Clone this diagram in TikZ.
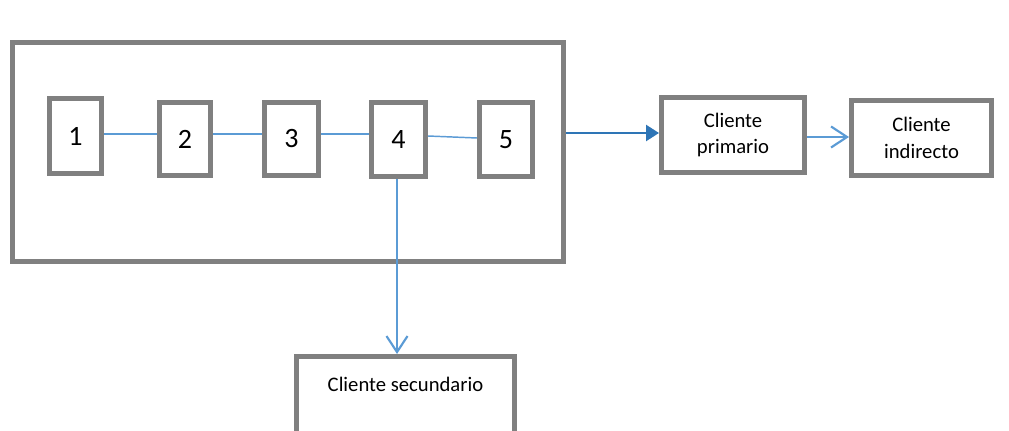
\documentclass[tikz,border=0pt]{standalone}
\usepackage{fontspec}
\setmainfont{Carlito}
\usetikzlibrary{arrows.meta}
\definecolor{boxgray}{HTML}{808080}
\definecolor{lblue}{HTML}{5B9BD5}
\definecolor{dblue}{HTML}{2E75B6}
\begin{document}
\begin{tikzpicture}[x=0.75pt,y=-0.75pt,
  stage/.style={draw=boxgray,line width=3.75pt,fill=white,inner sep=0pt,font=\fontsize{21}{24}\selectfont},
  client/.style={draw=boxgray,line width=3.75pt,fill=white,inner sep=0pt,align=center,font=\fontsize{15.5}{20}\selectfont},
  link/.style={draw=lblue,line width=1.1pt},
  openarrow/.style={draw=lblue,line width=1.6pt,-{Straight Barb[length=16*0.75pt,width=21*0.75pt,line width=1.6pt]}},
]
\useasboundingbox[fill=white] (0,0) rectangle (1009,431);
\node[stage,minimum width=551*0.75pt,minimum height=219*0.75pt] (big) at (288,152) {};
\node[stage,minimum width=52*0.75pt,minimum height=75*0.75pt] (b1) at (75.5,136) {1};
\node[stage,minimum width=51*0.75pt,minimum height=73*0.75pt] (b2) at (185,139) {2};
\node[stage,minimum width=54*0.75pt,minimum height=73*0.75pt] (b3) at (291.5,139) {3};
\node[stage,minimum width=54*0.75pt,minimum height=74*0.75pt] (b4) at (398.5,139.5) {4};
\node[stage,minimum width=53*0.75pt,minimum height=74*0.75pt] (b5) at (506,139.5) {5};
\node[client,minimum width=143*0.75pt,minimum height=75*0.75pt] (prim) at (733,135) {Cliente\\primario};
\node[client,minimum width=140*0.75pt,minimum height=75*0.75pt] (ind) at (921.5,138) {Cliente\\indirecto};
\begin{scope}
\clip (0,0) rectangle (1009,431);
\node[client,minimum width=218*0.75pt,minimum height=95*0.75pt,text depth=0pt] (sec) at (405.5,404) {};
\end{scope}
\node[font=\fontsize{15.5}{20}\selectfont,inner sep=0pt] (sect) at (405.5,384) {Cliente secundario};
\draw[link] (b1.east |- 0,134) -- (b2.west |- 0,134);
\draw[link] (b2.east |- 0,134) -- (b3.west |- 0,134);
\draw[link] (b3.east |- 0,134) -- (b4.west |- 0,134);
\draw[link] (b4.east |- 0,136) -- (b5.west |- 0,138);
\draw[draw=dblue,line width=1.8pt,-{Triangle[length=13*0.75pt,width=16*0.75pt]}] (big.east |- 0,133) -- (prim.west |- 0,133);
\draw[openarrow] (prim.east |- 0,137) -- (ind.west |- 0,137);
\draw[openarrow] (b4.south -| 397,0) -- (sec.north -| 397,0);
\end{tikzpicture}
\end{document}
